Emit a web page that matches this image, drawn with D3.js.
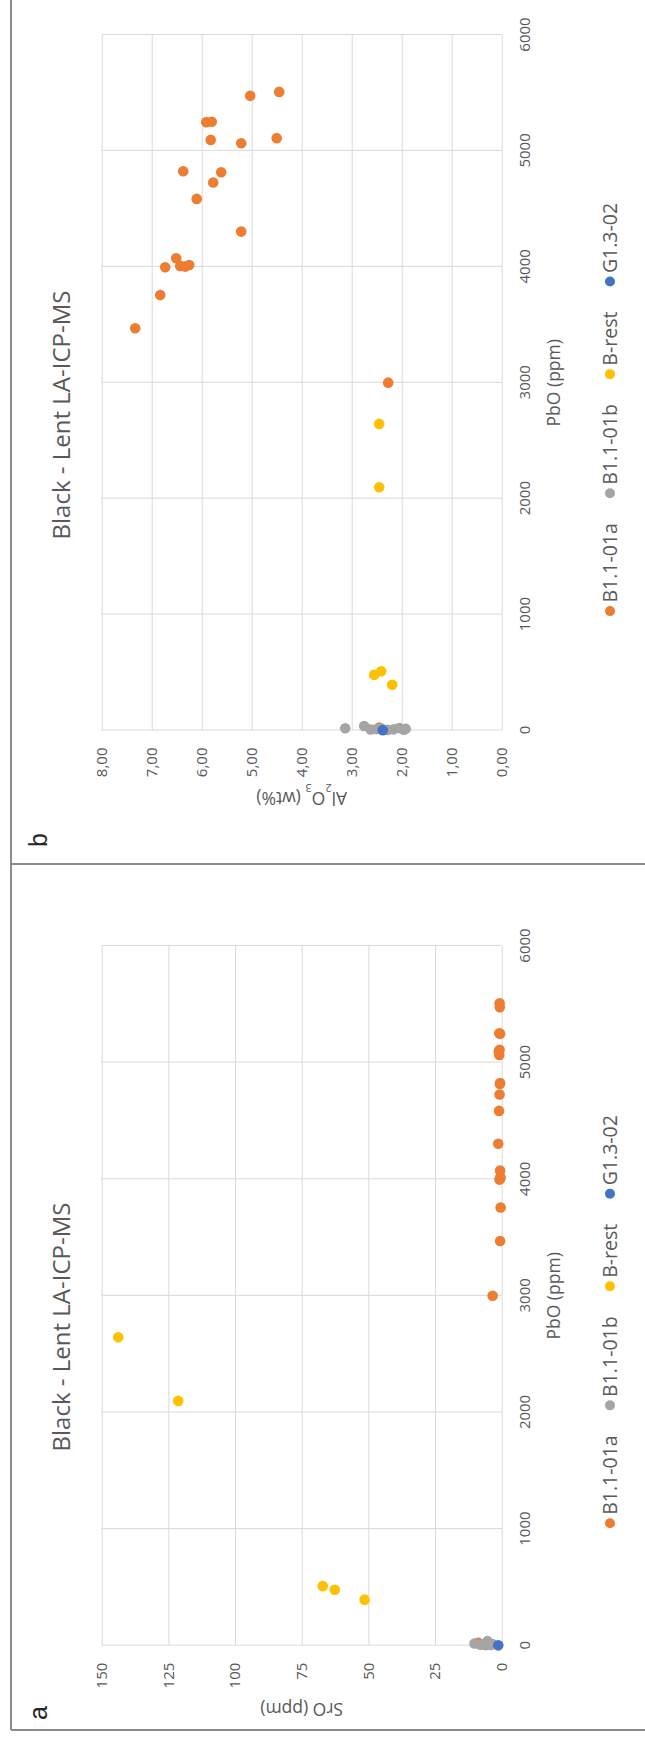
<!DOCTYPE html>
<html>
<head>
<meta charset="utf-8">
<script src="https://cdn.jsdelivr.net/npm/d3@7/dist/d3.min.js"></script>
<style>
  body { margin: 0; background: #fff; }
  svg { display: block; }
</style>
</head>
<body>
<script>
// ---- data: PbO (ppm), SrO (ppm) and Al2O3 (wt%) for each analysed spot ----
const seriesNames  = ["B1.1-01a", "B1.1-01b", "B-rest", "G1.3-02"];
const seriesColors = ["#ED7D31", "#A5A5A5", "#FFC000", "#4472C4"];

const b1101aPbO   = [3470, 3757, 3997, 4074, 4008, 4002, 4016, 4586, 4825, 4727, 4816, 4304, 5095, 5066, 5110, 5248, 5252, 5475, 5509, 3001, 25];
const b1101aSrO   = [0.6, 0.4, 0.8, 0.6, 0.5, 0.7, 0.5, 1.0, 0.6, 0.8, 0.7, 1.3, 1.1, 0.9, 0.8, 0.6, 0.9, 0.7, 0.8, 3.4, 8.8];
const b1101aAl2O3 = [7.33, 6.83, 6.73, 6.51, 6.43, 6.33, 6.25, 6.10, 6.37, 5.77, 5.61, 5.21, 5.82, 5.21, 4.50, 5.91, 5.80, 5.03, 4.45, 2.27, 2.45];

const b1101bPbO   = [19, 39, 8, 12, 15, 5, 10, 22, 6, 14];
const b1101bSrO   = [10.2, 5.3, 8.0, 7.0, 6.5, 6.0, 5.5, 5.0, 4.0, 3.5];
const b1101bAl2O3 = [3.13, 2.75, 2.62, 2.50, 2.40, 2.28, 2.16, 2.05, 1.96, 1.92];

const bRestPbO    = [2645, 2099, 511, 480, 395];
const bRestSrO    = [143.8, 121.3, 67.1, 62.6, 51.4];
const bRestAl2O3  = [2.45, 2.45, 2.41, 2.55, 2.19];

const g1302PbO    = [3];
const g1302SrO    = [1.3];
const g1302Al2O3  = [2.38];

const pboTicks   = [0, 1000, 2000, 3000, 4000, 5000, 6000];
const sroTicks   = [0, 25, 50, 75, 100, 125, 150];
const al2o3Ticks = [0, 1, 2, 3, 4, 5, 6, 7, 8];

const chartTitle = "Black - Lent LA-ICP-MS";

// ---- assemble series ----
const pboCols   = [b1101aPbO, b1101bPbO, bRestPbO, g1302PbO];
const sroCols   = [b1101aSrO, b1101bSrO, bRestSrO, g1302SrO];
const al2o3Cols = [b1101aAl2O3, b1101bAl2O3, bRestAl2O3, g1302Al2O3];

function buildSeries(yCols) {
  return seriesNames.map((name, i) => ({
    name, color: seriesColors[i],
    points: pboCols[i].map((p, j) => ({ x: p, y: yCols[i][j] }))
  }));
}

// ---- figure: laid out landscape, then turned a quarter counter-clockwise ----
const PAGE_W = 645, PAGE_H = 1742;
const FONT = "'Open Sans', 'Noto Sans', sans-serif";
const TXT = "#595959";
const GRID = "#d9d9d9";

const svg = d3.select("body").append("svg")
  .attr("width", PAGE_W).attr("height", PAGE_H)
  .attr("viewBox", `0 0 ${PAGE_W} ${PAGE_H}`);

svg.append("rect").attr("width", PAGE_W).attr("height", PAGE_H).attr("fill", "#fff");

const fig = svg.append("g").attr("transform", `translate(0,${PAGE_H}) rotate(-90)`);

// panel frames
const frame = fig.append("g").attr("stroke", "#8c8c8c").attr("stroke-width", 2).attr("fill", "none");
frame.append("line").attr("x1", 12).attr("x2", PAGE_H + 5).attr("y1", 11).attr("y2", 11);
frame.append("line").attr("x1", 12).attr("x2", 12).attr("y1", 11).attr("y2", PAGE_W + 5);
frame.append("line").attr("x1", 878).attr("x2", 878).attr("y1", 11).attr("y2", PAGE_W + 5);

const PLOT_TOP = 101.7, PLOT_BOTTOM = 501.7;

const panels = [
  {
    letter: "a", letterX: 22,
    xRange: [96.3, 796],
    yDomain: [0, 150], yTicks: sroTicks, yFmt: d3.format("d"),
    yCols: sroCols, yTitle: [{ t: "SrO (ppm)" }], yTitleX: 39,
    titleX: 415, legendX: 218.7
  },
  {
    letter: "b", letterX: 895,
    xRange: [1011.5, 1707],
    yDomain: [0, 8], yTicks: al2o3Ticks, yFmt: d => d3.format(".2f")(d).replace(".", ","),
    yCols: al2o3Cols,
    yTitle: [{ t: "Al" }, { t: "2", sub: true }, { t: "O" }, { t: "3", sub: true }, { t: " (wt%)" }],
    yTitleX: 950,
    titleX: 1327, legendX: 1130.9
  }
];

panels.forEach(p => {
  const g = fig.append("g");
  const x = d3.scaleLinear().domain([0, 6000]).range(p.xRange);
  const y = d3.scaleLinear().domain(p.yDomain).range([PLOT_BOTTOM, PLOT_TOP]);

  // horizontal axis with vertical gridlines
  const xAxis = g.append("g")
    .attr("transform", `translate(0,${PLOT_BOTTOM})`)
    .call(d3.axisBottom(x).tickValues(pboTicks).tickFormat(d3.format("d"))
      .tickSize(-(PLOT_BOTTOM - PLOT_TOP)).tickPadding(18));
  // vertical axis with horizontal gridlines
  const yAxis = g.append("g")
    .attr("transform", `translate(${p.xRange[0]},0)`)
    .call(d3.axisLeft(y).tickValues(p.yTicks).tickFormat(p.yFmt)
      .tickSize(-(p.xRange[1] - p.xRange[0])).tickPadding(17));

  [xAxis, yAxis].forEach(ax => {
    ax.select(".domain").remove();
    ax.selectAll(".tick line").attr("stroke", GRID).attr("stroke-width", 1);
    ax.selectAll(".tick text").attr("fill", TXT)
      .style("font-family", FONT).style("font-size", "15px");
  });

  // points
  buildSeries(p.yCols).forEach(s => {
    g.append("g").selectAll("circle").data(s.points).join("circle")
      .attr("cx", d => x(d.x)).attr("cy", d => y(d.y))
      .attr("r", 5.3).attr("fill", s.color);
  });

  // chart title
  g.append("text").text(chartTitle)
    .attr("x", p.titleX).attr("y", 70)
    .attr("text-anchor", "middle").attr("fill", TXT)
    .style("font-family", FONT).style("font-size", "24px");

  // horizontal axis title
  g.append("text").text("PbO (ppm)")
    .attr("x", (p.xRange[0] + p.xRange[1]) / 2).attr("y", 560)
    .attr("text-anchor", "middle").attr("fill", TXT)
    .style("font-family", FONT).style("font-size", "17.5px");

  // vertical axis title
  const yt = g.append("text")
    .attr("transform", `translate(${p.yTitleX},${(PLOT_TOP + PLOT_BOTTOM) / 2}) rotate(-90)`)
    .attr("text-anchor", "middle").attr("fill", TXT)
    .style("font-family", FONT).style("font-size", "17.5px");
  p.yTitle.forEach(part => {
    const ts = yt.append("tspan").text(part.t);
    if (part.sub) ts.attr("baseline-shift", "sub").style("font-size", "11px");
  });

  // legend
  const lg = g.append("g").style("font-family", FONT).style("font-size", "19.5px");
  let cursor = p.legendX;
  seriesNames.forEach((name, i) => {
    lg.append("circle").attr("cx", cursor).attr("cy", 610).attr("r", 5).attr("fill", seriesColors[i]);
    const t = lg.append("text").text(name)
      .attr("x", cursor + 8.5).attr("y", 617).attr("fill", TXT);
    cursor = cursor + 8.5 + t.node().getComputedTextLength() + 30;
  });

  // panel letter
  g.append("text").text(p.letter)
    .attr("x", p.letterX).attr("y", 47)
    .attr("fill", "#262626")
    .style("font-family", "'Liberation Sans', Arial, sans-serif").style("font-size", "25px");
});
</script>
</body>
</html>
